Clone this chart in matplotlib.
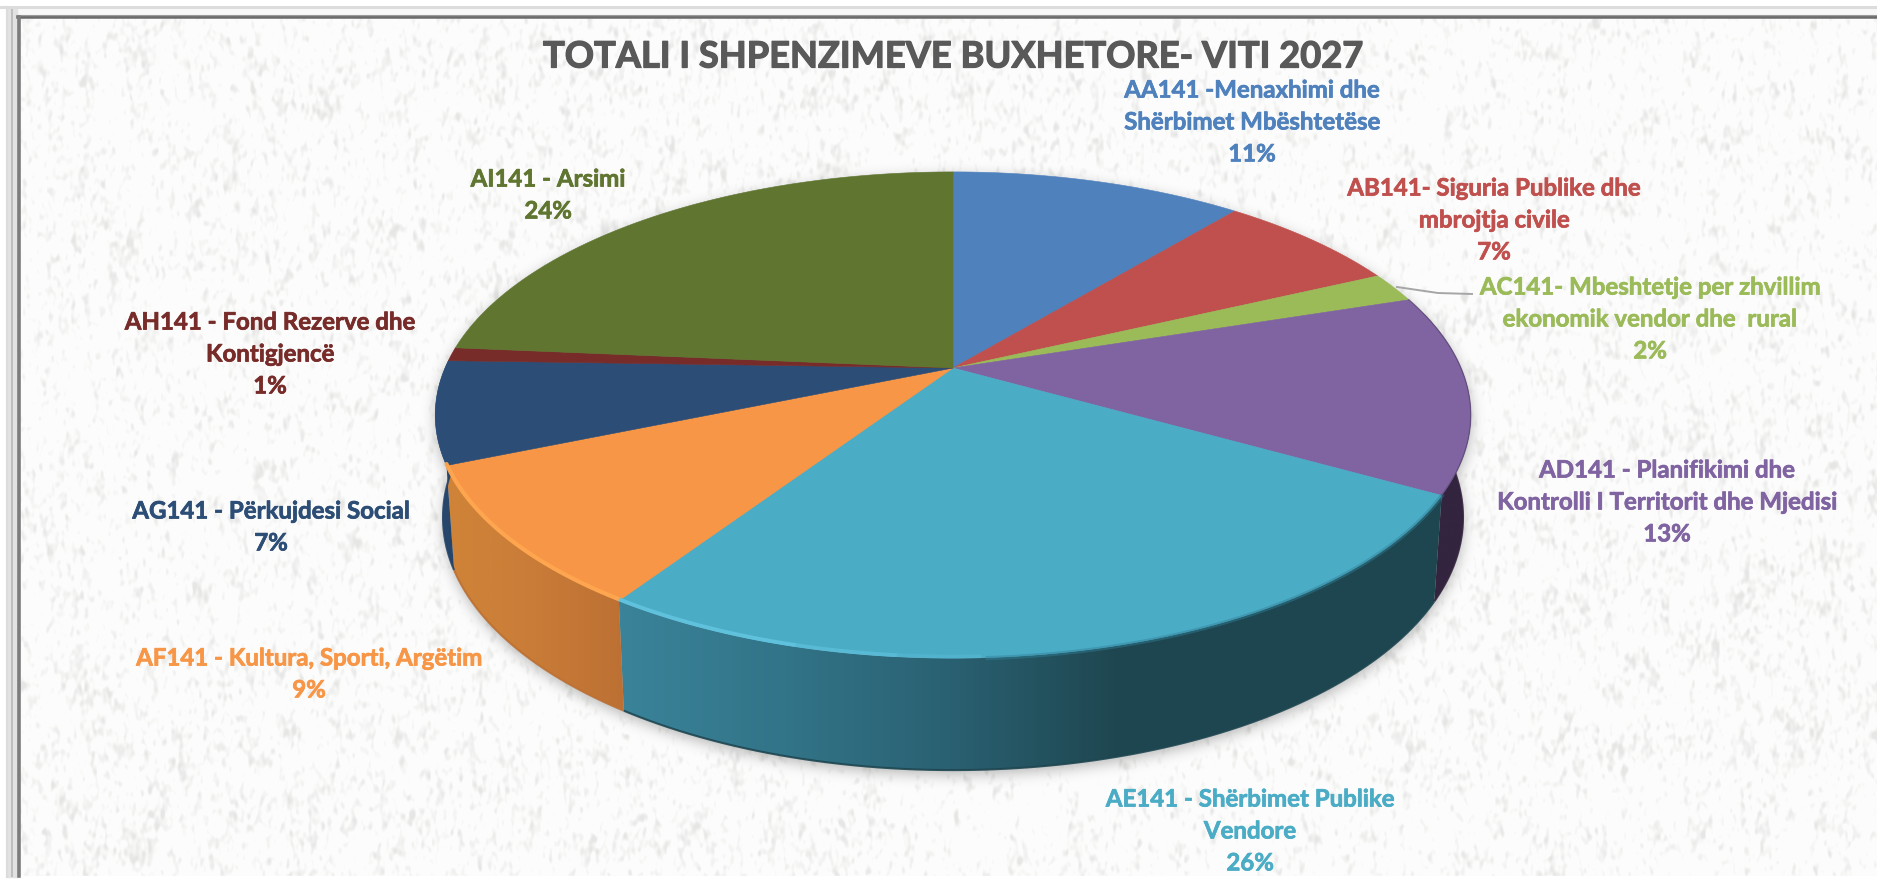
import numpy as np
import matplotlib
matplotlib.use("Agg")
import matplotlib.pyplot as plt
import matplotlib.patheffects as pe
from matplotlib.colors import LinearSegmentedColormap
from matplotlib.patches import Polygon
from matplotlib.path import Path

labels = ["AA141 -Menaxhimi dhe\nShërbimet Mbështetëse",
          "AB141- Siguria Publike dhe\nmbrojtja civile",
          "AC141- Mbeshtetje per zhvillim\nekonomik vendor dhe  rural",
          "AD141 - Planifikimi dhe\nKontrolli I Territorit dhe Mjedisi",
          "AE141 - Shërbimet Publike\nVendore",
          "AF141 - Kultura, Sporti, Argëtim",
          "AG141 - Përkujdesi Social",
          "AH141 - Fond Rezerve dhe\nKontigjencë",
          "AI141 - Arsimi"]
values = [11.0, 7.0, 2.0, 13.2, 26.1, 9.4, 6.8, 0.9, 23.6]
colors = ["#4F81BD", "#C0504D", "#9BBB59", "#8064A2", "#4BACC6",
          "#F79646", "#2C4D75", "#772C2A", "#5F7530"]
title = "TOTALI I SHPENZIMEVE BUXHETORE- VITI 2027"
label_centers = [(1252, 122), (1494, 220), (1650, 319), (1667, 502), (1250, 831),
                 (309, 674), (271, 527), (270, 354), (548, 195)]

W, H = 1877, 880
CX, CY, A, B, K = 953.0, 368.0, 508.0, 234.0, 0.1934

def top_xy(theta):
    u, v = np.sin(theta), np.cos(theta)
    d = 1 + K * v
    return CX + A * u / d, CY - B * v / d

def bottom_xy(theta):
    x, y = top_xy(theta)
    return CX + (x - CX) * 0.985, y + 100 - 12 * np.cos(theta)

def blur(a, sx, sy):
    fy = np.fft.fftfreq(a.shape[0])[:, None]
    fx = np.fft.rfftfreq(a.shape[1])[None, :]
    g = np.exp(-2 * np.pi ** 2 * ((fx * sx) ** 2 + (fy * sy) ** 2))
    return np.fft.irfft2(np.fft.rfft2(a) * g, s=a.shape)

plt.rcParams['font.family'] = ['Lato', 'DejaVu Sans']
fig = plt.figure(figsize=(W / 100, H / 100), dpi=100, facecolor="white")
ax = fig.add_axes([0, 0, 1, 1])
ax.axis("off")

# paper texture (deterministic hash noise, purely decorative)
yy, xx = np.mgrid[0:H, 0:W]
noise = (np.sin(xx * 12.9898 + yy * 78.233) * 43758.5453) % 1.0
fine = blur(noise, 1.4, 2.6)
wide = blur(noise, 7, 10)
fine = (fine - fine.mean()) / fine.std()
wide = (wide - wide.mean()) / wide.std()
spots = np.clip(fine + 0.25 * wide - 0.3, 0, 3.0)
tex = np.clip(0.992 - spots * 0.03, 0.87, 1.0)
ax.imshow(np.dstack([tex, tex, tex * 0.997]), extent=(0, W, H, 0), aspect="auto", zorder=0,
          interpolation="bilinear")

# pie outline
theta_all = np.linspace(0, 2 * np.pi, 721)
tx, ty = top_xy(theta_all)
front = theta_all[(theta_all >= np.pi / 2) & (theta_all <= 3 * np.pi / 2)]
bx, by = bottom_xy(front)

# soft shadow
grid = np.zeros((H, W))
fx_, fy_ = top_xy(front)
for poly in (np.c_[tx, ty], np.r_[np.c_[fx_, fy_], np.c_[bx, by][::-1]]):
    p = Path(poly)
    x0, x1 = int(poly[:, 0].min()), int(poly[:, 0].max()) + 1
    y0, y1 = int(poly[:, 1].min()), int(poly[:, 1].max()) + 1
    gx, gy = np.meshgrid(np.arange(x0, x1), np.arange(y0, y1))
    m = p.contains_points(np.c_[gx.ravel(), gy.ravel()]).reshape(gx.shape)
    grid[y0:y1, x0:x1] = np.maximum(grid[y0:y1, x0:x1], m)
sh = np.roll(blur(grid, 7, 7), 4, axis=0)
rgba = np.zeros((H, W, 4))
rgba[..., 3] = np.clip(sh, 0, 1) * 0.28
ax.imshow(rgba, extent=(0, W, H, 0), aspect="auto", zorder=1)

# walls
wall_grad = {
    3: ["#33243F", "#33243F"],
    4: ["#3A8399", "#327488", "#2A6172", "#1F4751", "#1E4650", "#1E4650"],
    5: ["#D08438", "#C97C38", "#BC7033"],
    6: ["#274A70", "#264468"],
}
edges = np.r_[0, np.cumsum(values)] / np.sum(values) * 2 * np.pi
for i in [6, 3, 5, 4]:
    th = np.linspace(edges[i], edges[i + 1], 160)
    th = th[np.cos(th) < 0.25]
    x1, y1 = top_xy(th)
    x2, y2 = bottom_xy(th)
    verts = np.r_[np.c_[x1, y1], np.c_[x2, y2][::-1]]
    clip = Polygon(verts, closed=True, transform=ax.transData, fc="none", ec="none")
    ax.add_patch(clip)
    cmap = LinearSegmentedColormap.from_list(f"w{i}", wall_grad[i])
    im = ax.imshow(np.linspace(0, 1, 256)[None, :], cmap=cmap, aspect="auto", zorder=2 + 0.01 * i,
                   extent=(verts[:, 0].min(), verts[:, 0].max(), verts[:, 1].max(), verts[:, 1].min()))
    im.set_clip_path(clip)
    ax.plot(x2, y2, color=wall_grad[i][-1], lw=1.5, alpha=0.9, zorder=2.5,
            solid_capstyle="butt")

# top faces
for i, c in enumerate(colors):
    th = np.linspace(edges[i], edges[i + 1], 160)
    x, y = top_xy(th)
    ax.add_patch(Polygon(np.r_[[[CX, CY]], np.c_[x, y]], closed=True, fc=c, ec=c, lw=0.4, zorder=3))

# bevel on the rim
th = np.linspace(edges[3], edges[4], 160)
x, y = top_xy(th)
ax.plot(x, y, color="#3D2E50", lw=1.0, alpha=0.4, zorder=3.5)
th = np.linspace(edges[5], edges[6], 160)
x, y = top_xy(th)
ax.plot(x, y - 1.5, color="#FFA650", lw=3.0, alpha=0.95, zorder=3.5, solid_capstyle="round")
th = np.linspace(edges[4], edges[5], 160)
x, y = top_xy(th)
for frac_lo, frac_hi, al in [(0.80, 1.0, 0.9), (0.70, 0.80, 0.6), (0.62, 0.70, 0.3)]:
    n0, n1 = int(frac_lo * 159), int(frac_hi * 159) + 1
    ax.plot(x[n0:n1], y[n0:n1] - 1.5, color="#62C4DF", lw=2.8, alpha=al, zorder=3.5,
            solid_capstyle="butt")
n1 = int(0.62 * 159)
ax.plot(x[:n1], y[:n1] + 0.5, color="#2F8098", lw=3.0, alpha=0.45, zorder=3.4)

# frame
ax.fill_between([0, W], 0, 6, color="white", zorder=5)
ax.fill_betweenx([0, H], 0, 7, color="white", zorder=5)
ax.fill_between([0, W], 876, 880, color="white", zorder=5)
ax.fill_between([8, W], 8, 15, color="#F8F8F8", zorder=5)
ax.fill_betweenx([8, 877], 8, 17, color="#E2E2E2", zorder=5)
ax.plot([0, W], [7.5, 7.5], color="#DCDCDC", lw=2.2, zorder=5.1)
ax.plot([7.5, 7.5], [7, 877], color="#DCDCDC", lw=1.6, zorder=5.1)
ax.plot([12, 12], [10, 876], color="#BDBDBD", lw=1.4, zorder=5.1)
ax.plot([17, W], [16, 16], color="#9A9A9A", lw=1.5, zorder=5.2)
ax.plot([17, W], [17.5, 17.5], color="#6A6A6A", lw=1.8, zorder=5.2)
ax.plot([19, 19], [17, 876], color="#7C7C7C", lw=2.6, zorder=5.2)

# leader
ax.plot([1397, 1438, 1472], [287, 293, 294], color="#A6A6A6", lw=1.4, zorder=4)

# texts
ax.text(952, 57, title, color="#595959", fontsize=26.1, fontweight="bold", ha="center",
        va="center", zorder=6,
        path_effects=[pe.withStroke(linewidth=0.9, foreground="#595959")])
total = sum(values)
for lab, val, c, (lx, ly) in zip(labels, values, colors, label_centers):
    txt = f"{lab}\n{round(val / total * 100):d}%"
    ax.text(lx, ly, txt, color=c, fontsize=17.3, fontweight="bold", ha="center", va="center",
            linespacing=1.47, zorder=6,
            path_effects=[pe.withStroke(linewidth=0.5, foreground=c)])

ax.set_xlim(0, W)
ax.set_ylim(H, 0)
fig.savefig("out.png", dpi=100)
